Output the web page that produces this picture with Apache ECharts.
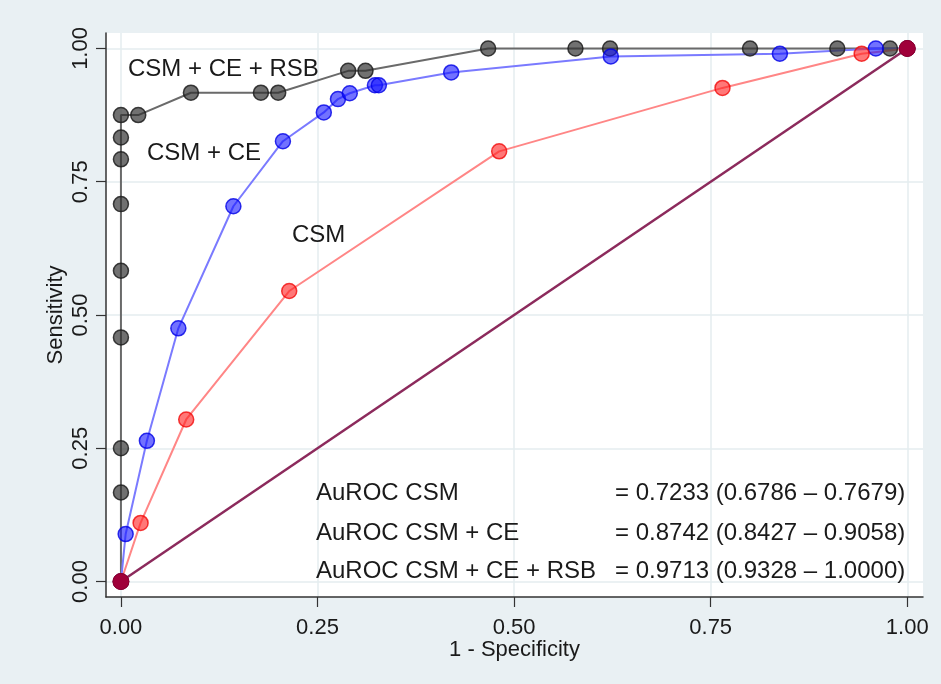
<!DOCTYPE html>
<html lang="en">
<head>
    <meta charset="UTF-8">
    <title>ROC curves</title>
    <script src="https://cdn.jsdelivr.net/npm/echarts@6/dist/echarts.min.js"></script>
    <style>
        html, body { margin: 0; padding: 0; background: #e9f0f3; }
        #main { width: 941px; height: 684px; }
    </style>
</head>
<body>
<div id="main"></div>
<script type="text/javascript">
    // tick values shared by both axes
    var ticks = [0, 0.25, 0.5, 0.75, 1];

    // CSM + CE + RSB (grey)
    var rsbX = [0, 0, 0, 0, 0, 0, 0, 0, 0, 0.022, 0.089, 0.178, 0.2, 0.289, 0.311, 0.467, 0.578, 0.622, 0.8, 0.911, 0.978, 1];
    var rsbY = [0, 0.167, 0.25, 0.458, 0.583, 0.708, 0.792, 0.833, 0.875, 0.875, 0.917, 0.917, 0.917, 0.958, 0.958, 1, 1, 1, 1, 1, 1, 1];

    // CSM + CE (blue)
    var ceX = [0, 0.006, 0.033, 0.073, 0.143, 0.206, 0.258, 0.276, 0.291, 0.323, 0.328, 0.42, 0.623, 0.838, 0.96, 1];
    var ceY = [0, 0.089, 0.264, 0.475, 0.704, 0.826, 0.88, 0.905, 0.916, 0.931, 0.931, 0.955, 0.985, 0.99, 1, 1];

    // CSM (red)
    var csmX = [0, 0.025, 0.083, 0.214, 0.481, 0.765, 0.942, 1];
    var csmY = [0, 0.11, 0.304, 0.545, 0.807, 0.926, 0.99, 1];

    // reference line
    var refX = [0, 1];
    var refY = [0, 1];

    var aurocNames = ['AuROC CSM', 'AuROC CSM + CE', 'AuROC CSM + CE + RSB'];
    var aurocValues = ['= 0.7233 (0.6786 \u2013 0.7679)', '= 0.8742 (0.8427 \u2013 0.9058)', '= 0.9713 (0.9328 \u2013 1.0000)'];

    function pairs(xs, ys) {
        var out = [];
        for (var i = 0; i < xs.length; i++) out.push([xs[i], ys[i]]);
        return out;
    }

    var font = 'Liberation Sans, Arial, sans-serif';

    function rocSeries(xs, ys, lineColor, fill, border) {
        return {
            type: 'line',
            data: pairs(xs, ys),
            symbol: 'circle',
            symbolSize: 15,
            clip: false,
            lineStyle: { color: lineColor, width: 2 },
            itemStyle: { color: fill, borderColor: border, borderWidth: 1.5 },
            emphasis: { disabled: true },
            animation: false
        };
    }

    function textEl(x, y, str) {
        return {
            type: 'text', left: x, top: y, z: 100,
            style: { text: str, font: '24px ' + font, fill: '#1a1a1a' }
        };
    }

    var myChart = echarts.init(document.getElementById('main'));

    var axisCommon = {
        type: 'value',
        axisLine: { show: true, onZero: false, lineStyle: { color: '#333', width: 1.5 } },
        axisTick: { show: true, length: 10, customValues: ticks, lineStyle: { color: '#333', width: 1.2 } },
        splitLine: { show: true, lineStyle: { color: '#e4ecef', width: 1.5 } },
        nameLocation: 'middle',
        nameMoveOverlap: false,
        nameTextStyle: { fontFamily: font, fontSize: 22, color: '#1a1a1a' }
    };

    var graphics = [
        textEl(128, 57, 'CSM + CE + RSB'),
        textEl(147, 141, 'CSM + CE'),
        textEl(292, 223, 'CSM')
    ];
    var rowY = [481, 521, 559];
    for (var i = 0; i < aurocNames.length; i++) {
        graphics.push(textEl(316, rowY[i], aurocNames[i]));
        graphics.push(textEl(615, rowY[i], aurocValues[i]));
    }

    var option = {
        backgroundColor: '#e9f0f3',
        animation: false,
        grid: {
            left: 106, right: 18, top: 33, bottom: 87,
            show: true, backgroundColor: '#ffffff', borderWidth: 0
        },
        xAxis: Object.assign({}, axisCommon, {
            min: -0.019, max: 1.02,
            name: '1 - Specificity',
            nameGap: 42,
            axisLabel: {
                customValues: ticks, margin: 20,
                fontFamily: font, fontSize: 22, color: '#1a1a1a',
                formatter: function (v) { return v.toFixed(2); }
            }
        }),
        yAxis: Object.assign({}, axisCommon, {
            min: -0.029, max: 1.029,
            name: 'Sensitivity',
            nameGap: 39,
            axisLabel: {
                customValues: ticks, margin: 14, rotate: 90,
                fontFamily: font, fontSize: 22, color: '#1a1a1a',
                formatter: function (v) { return v.toFixed(2); }
            }
        }),
        graphic: graphics,
        series: [
            rocSeries(rsbX, rsbY, '#6a6a6a', 'rgba(45,45,45,0.68)', 'rgba(30,30,30,0.85)'),
            rocSeries(ceX, ceY, '#7a7aff', 'rgba(20,20,255,0.6)', 'rgba(0,0,230,0.8)'),
            rocSeries(csmX, csmY, '#ff8686', 'rgba(255,30,30,0.6)', 'rgba(240,0,0,0.75)'),
            {
                type: 'line',
                data: pairs(refX, refY),
                symbol: 'circle',
                symbolSize: 16,
                clip: false,
                lineStyle: { color: '#8c2a5c', width: 2.5 },
                itemStyle: { color: '#a0003a', borderColor: '#8a0030', borderWidth: 1 },
                emphasis: { disabled: true },
                animation: false
            }
        ]
    };

    myChart.setOption(option);
</script>
</body>
</html>
